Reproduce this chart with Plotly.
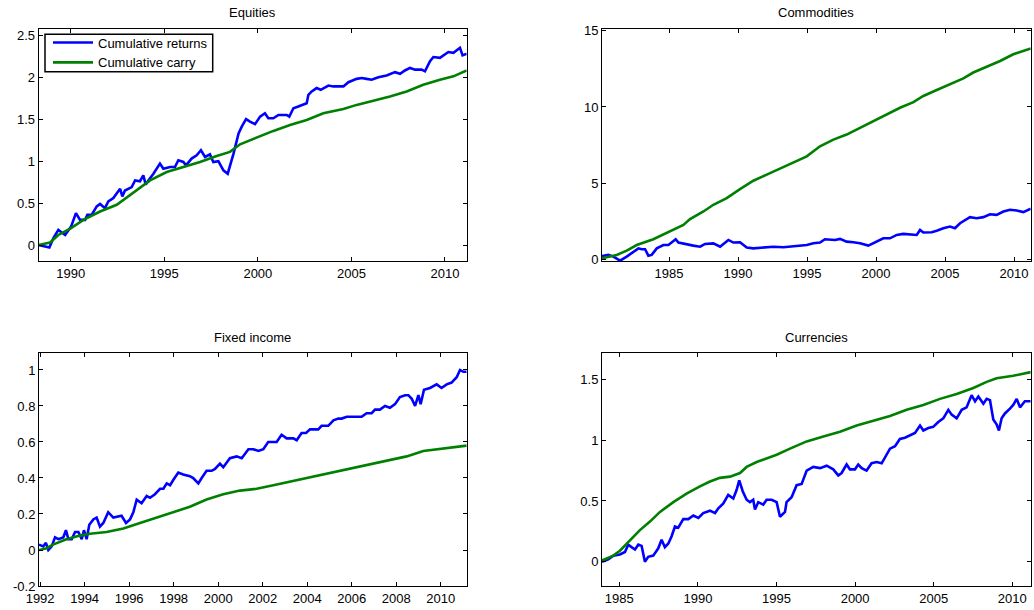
import plotly.graph_objects as go

# ---------------- Data ----------------
eq_ret_x = [1988.29, 1988.86, 1989.07, 1989.34, 1989.70, 1990.02, 1990.28, 1990.50, 1990.77, 1990.89,
            1991.12, 1991.39, 1991.57, 1991.83, 1992.01, 1992.28, 1992.64, 1992.76, 1992.90, 1993.26,
            1993.44, 1993.70, 1993.88, 1994.01, 1994.15, 1994.42, 1994.77, 1994.95, 1995.31, 1995.57,
            1995.75, 1996.02, 1996.16, 1996.46, 1996.73, 1996.96, 1997.18, 1997.44, 1997.62, 1997.89,
            1998.16, 1998.39, 1998.70, 1998.97, 1999.14, 1999.37, 1999.58, 1999.85, 2000.12, 2000.38,
            2000.56, 2000.83, 2001.10, 2001.54, 2001.68, 2001.90, 2002.16, 2002.34, 2002.61, 2002.70,
            2002.88, 2003.14, 2003.36, 2003.77, 2004.03, 2004.57, 2004.84, 2005.28, 2005.55, 2005.81,
            2006.08, 2006.44, 2006.88, 2007.33, 2007.60, 2007.86, 2008.13, 2008.40, 2008.75, 2008.93,
            2009.20, 2009.38, 2009.73, 2010.18, 2010.45, 2010.80, 2010.94, 2011.16]
eq_ret_y = [0.00, -0.03, 0.08, 0.18, 0.12, 0.22, 0.38, 0.30, 0.30, 0.36,
            0.36, 0.46, 0.49, 0.44, 0.52, 0.56, 0.67, 0.58, 0.65, 0.69,
            0.77, 0.76, 0.83, 0.72, 0.77, 0.85, 0.97, 0.91, 0.93, 0.93,
            1.01, 0.99, 0.95, 1.03, 1.07, 1.13, 1.05, 1.08, 0.99, 1.00,
            0.89, 0.85, 1.09, 1.33, 1.41, 1.50, 1.47, 1.44, 1.53, 1.57,
            1.51, 1.51, 1.55, 1.55, 1.53, 1.63, 1.65, 1.67, 1.69, 1.79,
            1.83, 1.87, 1.85, 1.90, 1.89, 1.89, 1.94, 1.98, 1.99, 1.98,
            1.97, 2.00, 2.02, 2.06, 2.04, 2.08, 2.11, 2.09, 2.09, 2.07,
            2.19, 2.24, 2.23, 2.30, 2.29, 2.35, 2.26, 2.28]
eq_carry_x = [1988.29, 1988.90, 1989.34, 1990.00, 1990.68, 1991.57, 1992.46, 1993.35, 1994.24, 1995.13,
              1996.02, 1996.91, 1997.80, 1998.51, 1999.05, 1999.94, 2000.83, 2001.72, 2002.61, 2003.50,
              2004.57, 2005.28, 2006.17, 2007.06, 2007.95, 2008.84, 2009.73, 2010.45, 2011.16]
eq_carry_y = [0.00, 0.03, 0.12, 0.20, 0.30, 0.40, 0.48, 0.63, 0.77, 0.87,
              0.93, 0.99, 1.06, 1.11, 1.20, 1.28, 1.36, 1.43, 1.49, 1.57,
              1.62, 1.67, 1.72, 1.77, 1.83, 1.91, 1.97, 2.01, 2.08]

co_ret_x = [1980.14, 1980.60, 1980.97, 1981.45, 1981.93, 1982.42, 1982.78, 1983.02, 1983.26, 1983.50,
            1983.74, 1984.11, 1984.59, 1984.95, 1985.48, 1985.68, 1986.16, 1986.76, 1987.25, 1987.61,
            1988.21, 1988.70, 1989.30, 1989.66, 1990.14, 1990.63, 1991.11, 1991.84, 1992.56, 1993.29,
            1993.77, 1994.25, 1994.98, 1995.46, 1995.94, 1996.30, 1997.03, 1997.39, 1997.87, 1998.36,
            1998.84, 1999.44, 1999.93, 2000.53, 2001.01, 2001.50, 2001.98, 2002.46, 2002.95, 2003.19,
            2003.43, 2004.03, 2004.40, 2004.88, 2005.36, 2005.72, 2006.09, 2006.81, 2007.29, 2007.78,
            2008.26, 2008.74, 2009.23, 2009.71, 2010.19, 2010.68, 2011.21]
co_ret_y = [0.22, 0.29, 0.18, -0.09, 0.18, 0.50, 0.72, 0.66, 0.66, 0.24,
            0.29, 0.72, 0.94, 0.94, 1.32, 1.10, 0.99, 0.90, 0.83, 1.01,
            1.05, 0.83, 1.27, 1.10, 1.12, 0.77, 0.72, 0.77, 0.83, 0.79,
            0.83, 0.88, 0.94, 1.05, 1.10, 1.32, 1.27, 1.34, 1.16, 1.12,
            1.05, 0.90, 1.12, 1.38, 1.38, 1.60, 1.67, 1.65, 1.60, 1.93,
            1.76, 1.78, 1.87, 2.04, 2.15, 2.04, 2.37, 2.77, 2.70, 2.77,
            2.96, 2.92, 3.14, 3.25, 3.21, 3.10, 3.32]
co_carry_x = [1980.14, 1981.21, 1981.93, 1982.66, 1983.86, 1985.00, 1986.04, 1986.52, 1987.49, 1988.21,
              1989.18, 1990.14, 1991.11, 1992.08, 1993.04, 1994.01, 1994.98, 1995.94, 1996.91, 1997.87,
              1998.84, 1999.81, 2000.77, 2001.74, 2002.71, 2003.43, 2004.40, 2005.36, 2006.33, 2007.05,
              2008.02, 2008.99, 2009.95, 2011.21]
co_carry_y = [0.07, 0.29, 0.57, 0.94, 1.32, 1.82, 2.26, 2.64, 3.14, 3.58,
              4.02, 4.61, 5.16, 5.56, 5.95, 6.33, 6.76, 7.42, 7.86, 8.19,
              8.63, 9.07, 9.51, 9.95, 10.32, 10.72, 11.11, 11.49, 11.88, 12.26,
              12.63, 13.02, 13.46, 13.84]

fi_ret_x = [1991.95, 1992.14, 1992.26, 1992.37, 1992.52, 1992.67, 1992.82, 1993.04, 1993.16, 1993.27,
            1993.42, 1993.57, 1993.72, 1993.87, 1993.97, 1994.09, 1994.21, 1994.39, 1994.54, 1994.69,
            1994.84, 1995.06, 1995.29, 1995.66, 1995.86, 1996.04, 1996.19, 1996.34, 1996.56, 1996.79,
            1996.94, 1997.16, 1997.39, 1997.54, 1997.69, 1997.84, 1997.99, 1998.21, 1998.43, 1998.73,
            1998.88, 1999.11, 1999.26, 1999.48, 1999.71, 1999.86, 2000.08, 2000.23, 2000.53, 2000.83,
            2001.06, 2001.36, 2001.58, 2001.81, 2002.03, 2002.25, 2002.48, 2002.63, 2002.85, 2003.08,
            2003.38, 2003.53, 2003.75, 2003.95, 2004.13, 2004.50, 2004.65, 2004.95, 2005.18, 2005.40,
            2005.55, 2005.78, 2005.93, 2006.15, 2006.45, 2006.67, 2006.90, 2007.05, 2007.27, 2007.50,
            2007.72, 2007.95, 2008.17, 2008.40, 2008.55, 2008.70, 2008.85, 2009.00, 2009.10, 2009.25,
            2009.52, 2009.82, 2010.04, 2010.27, 2010.49, 2010.72, 2010.87, 2011.02, 2011.17]
fi_ret_y = [0.03, 0.02, 0.04, 0.00, 0.02, 0.07, 0.06, 0.07, 0.11, 0.06,
            0.06, 0.10, 0.10, 0.06, 0.11, 0.06, 0.14, 0.17, 0.18, 0.13,
            0.15, 0.21, 0.18, 0.19, 0.15, 0.17, 0.21, 0.28, 0.26, 0.30,
            0.29, 0.31, 0.34, 0.34, 0.37, 0.36, 0.39, 0.43, 0.42, 0.41,
            0.40, 0.37, 0.40, 0.44, 0.44, 0.45, 0.48, 0.46, 0.51, 0.52,
            0.51, 0.56, 0.56, 0.55, 0.56, 0.60, 0.60, 0.60, 0.64, 0.62,
            0.62, 0.61, 0.65, 0.65, 0.67, 0.67, 0.69, 0.69, 0.72, 0.73,
            0.73, 0.74, 0.74, 0.74, 0.74, 0.76, 0.76, 0.78, 0.78, 0.80,
            0.79, 0.81, 0.85, 0.86, 0.86, 0.84, 0.80, 0.86, 0.81, 0.89,
            0.90, 0.92, 0.90, 0.92, 0.93, 0.96, 1.00, 0.99, 0.99]
fi_carry_x = [1991.95, 1992.29, 1992.58, 1993.18, 1993.79, 1994.24, 1994.99, 1995.74, 1996.49, 1997.24,
              1997.99, 1998.73, 1999.48, 2000.23, 2000.98, 2001.73, 2002.48, 2003.23, 2003.98, 2004.73,
              2005.48, 2006.22, 2006.97, 2007.72, 2008.47, 2009.22, 2009.97, 2010.57, 2011.17]
fi_carry_y = [0.00, 0.01, 0.03, 0.06, 0.08, 0.09, 0.10, 0.12, 0.15, 0.18,
              0.21, 0.24, 0.28, 0.31, 0.33, 0.34, 0.36, 0.38, 0.40, 0.42,
              0.44, 0.46, 0.48, 0.50, 0.52, 0.55, 0.56, 0.57, 0.58]

cu_ret_x = [1983.90, 1984.30, 1984.62, 1985.04, 1985.36, 1985.57, 1985.78, 1986.00, 1986.21, 1986.42,
            1986.63, 1986.84, 1987.16, 1987.48, 1987.69, 1987.90, 1988.12, 1988.33, 1988.54, 1988.75,
            1989.07, 1989.39, 1989.71, 1990.03, 1990.34, 1990.77, 1991.09, 1991.30, 1991.62, 1991.93,
            1992.25, 1992.46, 1992.63, 1992.85, 1993.10, 1993.31, 1993.52, 1993.63, 1993.84, 1994.16,
            1994.37, 1994.69, 1995.01, 1995.22, 1995.54, 1995.64, 1995.96, 1996.28, 1996.60, 1996.92,
            1997.34, 1997.77, 1998.19, 1998.61, 1998.93, 1999.14, 1999.46, 1999.67, 1999.99, 2000.20,
            2000.42, 2000.73, 2001.05, 2001.37, 2001.69, 2001.90, 2002.22, 2002.54, 2002.85, 2003.17,
            2003.49, 2003.81, 2004.13, 2004.34, 2004.66, 2004.97, 2005.29, 2005.61, 2005.93, 2006.14,
            2006.46, 2006.78, 2007.09, 2007.41, 2007.63, 2007.84, 2008.16, 2008.37, 2008.58, 2008.79,
            2009.00, 2009.15, 2009.32, 2009.53, 2009.85, 2010.06, 2010.28, 2010.49, 2010.80, 2011.17]
cu_ret_y = [0.00, 0.02, 0.05, 0.06, 0.08, 0.14, 0.12, 0.10, 0.14, 0.13,
            0.00, 0.04, 0.05, 0.11, 0.18, 0.12, 0.15, 0.21, 0.29, 0.28,
            0.35, 0.35, 0.38, 0.36, 0.40, 0.42, 0.40, 0.44, 0.48, 0.55,
            0.52, 0.59, 0.67, 0.58, 0.51, 0.49, 0.51, 0.43, 0.49, 0.47,
            0.51, 0.51, 0.49, 0.37, 0.41, 0.49, 0.53, 0.63, 0.64, 0.75,
            0.78, 0.77, 0.79, 0.76, 0.71, 0.73, 0.80, 0.76, 0.76, 0.80,
            0.77, 0.75, 0.81, 0.82, 0.81, 0.86, 0.93, 0.95, 1.01, 1.02,
            1.04, 1.06, 1.12, 1.08, 1.10, 1.11, 1.15, 1.18, 1.25, 1.21,
            1.18, 1.25, 1.27, 1.37, 1.32, 1.36, 1.30, 1.34, 1.33, 1.17,
            1.13, 1.08, 1.18, 1.22, 1.26, 1.29, 1.34, 1.27, 1.32, 1.32]
cu_carry_x = [1983.90, 1984.62, 1985.04, 1985.68, 1986.31, 1986.95, 1987.59, 1988.44, 1989.28, 1990.13,
              1990.77, 1991.40, 1992.04, 1992.68, 1993.10, 1993.74, 1994.37, 1995.01, 1995.86, 1996.92,
              1997.98, 1999.04, 2000.10, 2001.16, 2002.22, 2003.28, 2004.34, 2005.40, 2006.46, 2007.52,
              2008.37, 2009.00, 2010.06, 2011.17]
cu_carry_y = [0.01, 0.05, 0.09, 0.18, 0.26, 0.33, 0.41, 0.49, 0.56, 0.62,
              0.66, 0.69, 0.70, 0.73, 0.78, 0.82, 0.85, 0.88, 0.93, 0.99,
              1.03, 1.07, 1.12, 1.16, 1.20, 1.25, 1.29, 1.34, 1.38, 1.43,
              1.48, 1.51, 1.53, 1.56]

titles = ["Equities", "Commodities", "Fixed income", "Currencies"]
series_names = ["Cumulative returns", "Cumulative carry"]

eq_yticks = [0, 0.5, 1, 1.5, 2, 2.5]
eq_yticklabels = ["0", "0.5", "1", "1.5", "2", "2.5"]
co_yticks = [0, 5, 10, 15]
co_yticklabels = ["0", "5", "10", "15"]
fi_yticks = [-0.2, 0, 0.2, 0.4, 0.6, 0.8, 1]
fi_yticklabels = ["-0.2", "0", "0.2", "0.4", "0.6", "0.8", "1"]
cu_yticks = [0, 0.5, 1, 1.5]
cu_yticklabels = ["0", "0.5", "1", "1.5"]
eq_xticks = [1990, 1995, 2000, 2005, 2010]
co_xticks = [1985, 1990, 1995, 2000, 2005, 2010]
fi_xticks = [1992, 1994, 1996, 1998, 2000, 2002, 2004, 2006, 2008, 2010]
cu_xticks = [1985, 1990, 1995, 2000, 2005, 2010]

# ---------------- Figure ----------------
W, H = 1034, 610
BLUE = "#0000ff"
GREEN = "#008000"
FONT = "Liberation Sans, Arial, Helvetica, sans-serif"

panels = [
    (eq_ret_x, eq_ret_y, eq_carry_x, eq_carry_y, [1988.29, 2011.16], [-0.19, 2.58], eq_xticks, eq_yticks, eq_yticklabels),
    (co_ret_x, co_ret_y, co_carry_x, co_carry_y, [1980.14, 2011.21], [-0.11, 15.15], co_xticks, co_yticks, co_yticklabels),
    (fi_ret_x, fi_ret_y, fi_carry_x, fi_carry_y, [1991.95, 2011.17], [-0.2, 1.096], fi_xticks, fi_yticks, fi_yticklabels),
    (cu_ret_x, cu_ret_y, cu_carry_x, cu_carry_y, [1983.90, 2011.17], [-0.2, 1.72], cu_xticks, cu_yticks, cu_yticklabels),
]

# plot-area boxes in pixels: (left, right, top, bottom)
boxes = [(38.7, 466.7, 28.5, 261), (602, 1030.7, 28.5, 261),
         (39, 466.7, 352.7, 586), (602, 1030.7, 352.7, 586)]

fig = go.Figure()
layout = dict(width=W, height=H, margin=dict(l=0, r=0, t=0, b=0),
              paper_bgcolor="white", plot_bgcolor="white",
              font=dict(family=FONT, size=13, color="black"),
              showlegend=True)
annotations = []

for i, (rx, ry, cx, cy, xr, yr, xt, yt, ytl) in enumerate(panels):
    n = "" if i == 0 else str(i + 1)
    xa, ya = "x" + n, "y" + n
    fig.add_trace(go.Scatter(x=rx, y=ry, mode="lines", name=series_names[0],
                             line=dict(color=BLUE, width=2.6), xaxis=xa, yaxis=ya,
                             showlegend=(i == 0)))
    fig.add_trace(go.Scatter(x=cx, y=cy, mode="lines", name=series_names[1],
                             line=dict(color=GREEN, width=2.6), xaxis=xa, yaxis=ya,
                             showlegend=(i == 0)))
    l, r, t, b = boxes[i]
    common = dict(showgrid=False, zeroline=False, showline=True, linecolor="black",
                  linewidth=1, mirror="ticks", ticks="inside", ticklen=4,
                  tickcolor="black", tickwidth=1, automargin=False,
                  tickfont=dict(family=FONT, size=13, color="black"))
    layout["xaxis" + n] = dict(domain=[l / W, r / W], range=xr, anchor=ya,
                               tickvals=xt, ticktext=[str(v) for v in xt], **common)
    layout["yaxis" + n] = dict(domain=[1 - b / H, 1 - t / H], range=yr, anchor=xa,
                               tickvals=yt, ticktext=ytl, **common)
    annotations.append(dict(text=titles[i], xref="paper", yref="paper",
                            x=(l + r) / 2 / W, y=1 - (t - 15.5) / H,
                            xanchor="center", yanchor="middle", showarrow=False,
                            font=dict(family=FONT, size=13, color="black")))

layout["annotations"] = annotations
# legend frame (MATLAB-style box), legend entries drawn by plotly inside it
layout["shapes"] = [dict(type="rect", xref="paper", yref="paper",
                         x0=45 / W, x1=212.7 / W, y0=1 - 71.7 / H, y1=1 - 34.3 / H,
                         line=dict(color="black", width=1.5), fillcolor="white",
                         layer="below")]
layout["legend"] = dict(x=48 / W, y=1 - 27.5 / H, xanchor="left", yanchor="top",
                        bgcolor="rgba(0,0,0,0)", borderwidth=0,
                        font=dict(family=FONT, size=13, color="black"),
                        tracegroupgap=0, itemwidth=40)
fig.update_layout(**layout)
fig.write_html("out.html", config={"displayModeBar": False},
               post_script="document.body.style.margin='0';document.body.style.padding='0';")
